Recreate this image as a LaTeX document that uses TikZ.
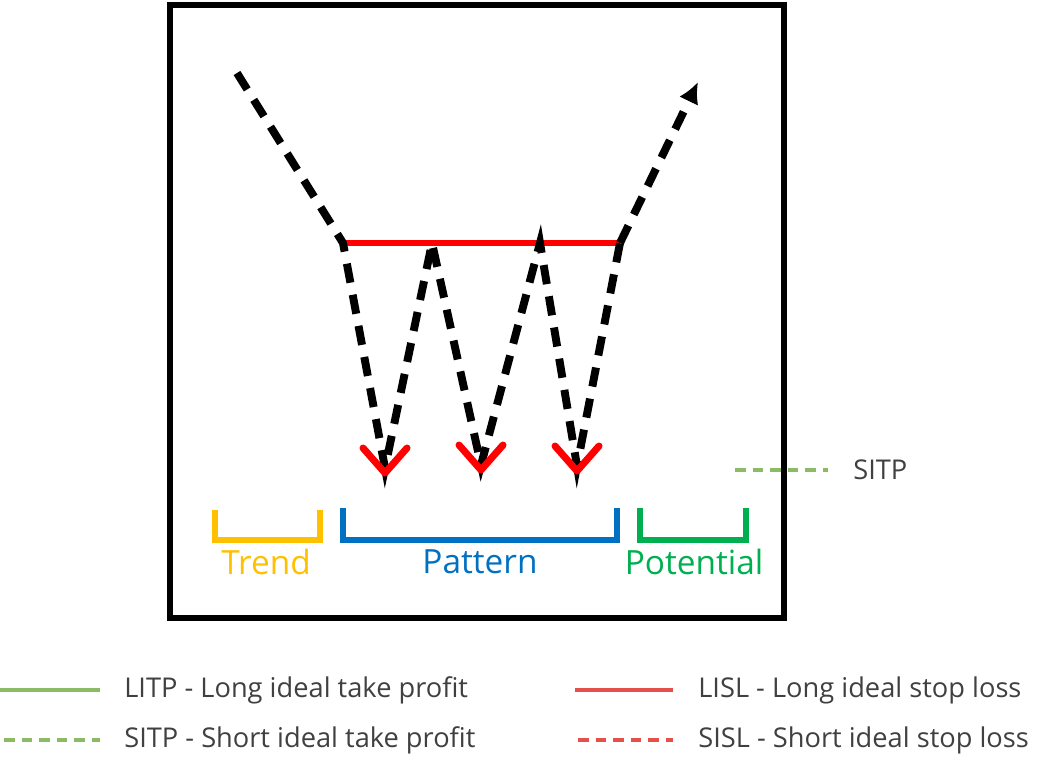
\documentclass[tikz,border=0pt]{standalone}
\usepackage{fontspec}
\setmainfont{Open Sans}
\usetikzlibrary{arrows.meta}
\definecolor{trendc}{HTML}{FFC000}
\definecolor{patternc}{HTML}{0070C0}
\definecolor{potc}{HTML}{00B050}
\definecolor{legg}{HTML}{8CBB66}
\definecolor{legr}{HTML}{E5504A}
\definecolor{txt}{HTML}{404040}
\begin{document}
\begin{tikzpicture}[x=0.02cm,y=-0.02cm,
  move/.style={line width=4.5pt,dash pattern=on 11pt off 7pt},
  tip/.style={red,line width=4pt,line cap=round,line join=round},
  brace/.style={line width=3pt},
  lbl/.style={font=\fontsize{19}{21}\selectfont},
  leg/.style={font=\fontsize{15.5}{17}\selectfont,text=txt,anchor=west,inner sep=0pt}]
  \useasboundingbox (0,0) rectangle (1060,758);
  \draw[line width=3pt] (170,5) rectangle (784,618);
  % price path
  \coordinate (s) at (237,73);
  \coordinate (a) at (343,243);
  \coordinate (b1) at (385,468);
  \coordinate (c) at (432,243);
  \coordinate (b2) at (481,465);
  \coordinate (d) at (540,243);
  \coordinate (b3) at (577,466);
  \coordinate (e) at (620,243);
  \coordinate (f) at (698,82);
  \draw[red,line width=3pt] (a) -- (e);
  \draw[move] (s) -- (a) -- (b1) -- (c) -- (b2) -- (d) -- (b3) -- (e);
  \draw[move,-{Latex[length=12pt,width=12pt]}] (e) -- (f);
  \foreach \p in {b1,b2,b3}
    \draw[tip] (\p) ++(-22,-20) -- ++(22,25) -- ++(22,-25);
  % phases
  \draw[brace,trendc] (215,510) -- (215,540) -- (320,540) -- (320,510);
  \draw[brace,patternc] (343,508) -- (343,540) -- (617,540) -- (617,508);
  \draw[brace,potc] (640,508) -- (640,540) -- (746,540) -- (746,508);
  \node[lbl,text=trendc] (trend) at (266,562) {Trend};
  \node[lbl,text=patternc] (pattern) at (480,562) {Pattern};
  \node[lbl,text=potc] (potential) at (694,562) {Potential};
  \draw[legg,line width=2.5pt,dash pattern=on 6pt off 4pt] (735,470) -- (828,470);
  \node[leg] (sitp) at (853,470) {SITP};
  % legend
  \draw[legg,line width=2.5pt] (0,690) -- (100,690);
  \node[leg] (litpl) at (124,690) {LITP - Long ideal take profit};
  \draw[legg,line width=2.5pt,dash pattern=on 6pt off 4pt] (4,740) -- (100,740);
  \node[leg] (sitpl) at (124,740) {SITP - Short ideal take profit};
  \draw[legr,line width=2.5pt] (575,690) -- (673,690);
  \node[leg] (lisl) at (698,690) {LISL - Long ideal stop loss};
  \draw[legr,line width=2.5pt,dash pattern=on 6pt off 4pt] (578,740) -- (673,740);
  \node[leg] (sisl) at (698,740) {SISL - Short ideal stop loss};
\end{tikzpicture}
\end{document}
